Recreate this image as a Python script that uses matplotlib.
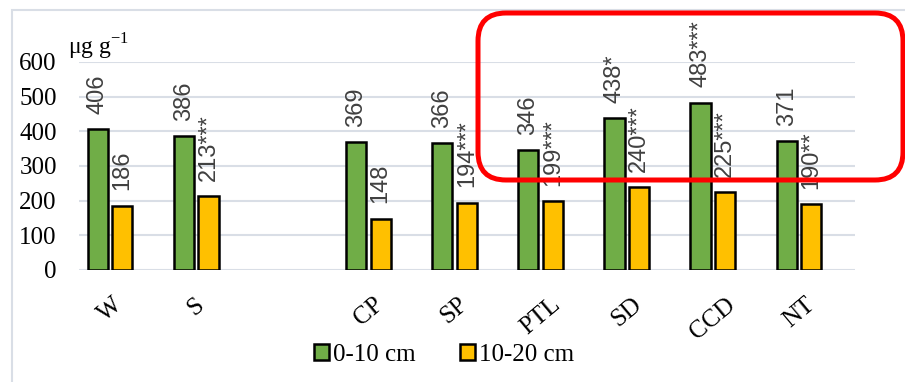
import numpy as np
import matplotlib.pyplot as plt
from matplotlib.patches import FancyBboxPatch, Rectangle
from matplotlib.transforms import IdentityTransform

# treatments (the blank slot separates the reference plots from the tillage ones)
categories = ["W", "S", "", "CP", "SP", "PTL", "SD", "CCD", "NT"]
depth_0_10 = [406, 386, np.nan, 369, 366, 346, 438, 483, 371]
depth_10_20 = [186, 213, np.nan, 148, 194, 199, 240, 225, 190]
labels_0_10 = ["406", "386", "", "369", "366", "346", "438*", "483***", "371"]
labels_10_20 = ["186", "213***", "", "148", "194***", "199***", "240***", "225***", "190**"]

plt.rcParams["font.family"] = "serif"
plt.rcParams["font.serif"] = ["Liberation Serif", "Times New Roman", "DejaVu Serif"]
plt.rcParams["mathtext.fontset"] = "custom"
plt.rcParams["mathtext.rm"] = "Liberation Serif"
sans = ["Liberation Sans", "DejaVu Sans"]
grid_col = "#D9DEE6"

fig = plt.figure(figsize=(9.05, 3.82), dpi=100)
ax = fig.add_axes([79 / 905, 1 - 270 / 382, (855 - 79) / 905, (270 - 62) / 382])

x = np.arange(len(categories))
w = 0.235
gap = 0.025
b1 = ax.bar(x - w / 2 - gap, depth_0_10, w, color="#70AD47", edgecolor="black", linewidth=1.8, zorder=3)
b2 = ax.bar(x + w / 2 + gap, depth_10_20, w, color="#FFC000", edgecolor="black", linewidth=1.8, zorder=3)

for xs, vals, labs in [(x - w / 2 - gap, depth_0_10, labels_0_10), (x + w / 2 + gap, depth_10_20, labels_10_20)]:
    for xi, v, lab in zip(xs, vals, labs):
        if not lab:
            continue
        ax.annotate(lab, (xi, v), xytext=(0, 11), textcoords="offset points",
                    rotation=90, ha="center", va="bottom", fontsize=17,
                    family=sans, color="#404040", zorder=4)

ax.set_ylim(0, 600)
ax.set_xlim(-0.36, 8.65)
ax.set_yticks(np.arange(0, 601, 100))
ax.set_xticks(x)
ax.set_xticklabels(categories, rotation=40, ha="center", va="top", fontsize=18)
ax.tick_params(axis="x", length=0, pad=17)
ax.tick_params(axis="y", length=0, pad=16, labelsize=18)
ax.grid(axis="y", color=grid_col, linewidth=1.5, zorder=0)
for s in ax.spines.values():
    s.set_visible(False)

fig.text(68 / 905, 1 - 47 / 382, r"μg g$^{-1}$", fontsize=17, va="center")

leg = fig.legend([b1, b2], ["0-10 cm", "10-20 cm"], loc="center",
                 bbox_to_anchor=(444 / 905, 1 - 355 / 382), ncol=2, frameon=False,
                 handlelength=0.6, handleheight=0.6, handletextpad=0.15, columnspacing=1.8,
                 prop={"size": 18})

# chart area border
fig.patches.append(Rectangle((12, -10), 1000, 382, transform=IdentityTransform(),
                             fill=False, edgecolor=grid_col, linewidth=1.5))

# highlight frame around the tillage treatments
fig.patches.append(FancyBboxPatch((478, 382 - 180), 425, 167,
                                  boxstyle="round,pad=0,rounding_size=28",
                                  transform=IdentityTransform(), fill=False,
                                  edgecolor="#FF0000", linewidth=3.6, zorder=10))

fig.savefig("out.png", dpi=100)
